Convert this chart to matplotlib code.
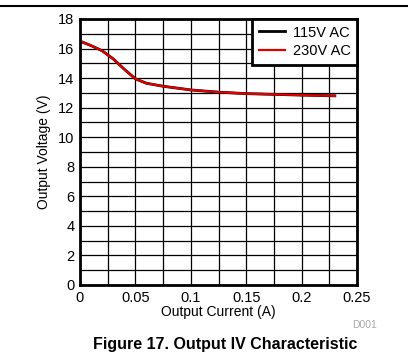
import numpy as np
import matplotlib.pyplot as plt
from matplotlib.lines import Line2D

# data
current = [0.0, 0.01, 0.02, 0.03, 0.04, 0.05, 0.06, 0.075, 0.1, 0.125, 0.15, 0.175, 0.2, 0.23]
v_115 = [16.5, 16.2, 15.85, 15.3, 14.6, 13.95, 13.65, 13.45, 13.2, 13.05, 12.95, 12.9, 12.85, 12.8]
v_230 = [16.5, 16.2, 15.85, 15.3, 14.6, 13.95, 13.65, 13.45, 13.2, 13.05, 12.95, 12.9, 12.85, 12.8]

plt.rcParams['font.family'] = ['Liberation Sans', 'DejaVu Sans']

fig = plt.figure(figsize=(4.08, 3.57), dpi=100)
ax = fig.add_axes([80/408, 1-285/357, 277/408, 266/357])

ax.plot(current, v_115, color='black', lw=2.0, label='115V AC')
ax.plot(current, v_230, color='#e00000', lw=1.6, label='230V AC')

ax.set_xlim(0, 0.25)
ax.set_ylim(0, 18)
ax.set_xticks(np.arange(0, 0.251, 0.05))
ax.set_xticklabels(['0', '0.05', '0.1', '0.15', '0.2', '0.25'])
ax.set_yticks(np.arange(0, 19, 2))
ax.set_xticks(np.arange(0, 0.251, 0.025), minor=True)
ax.set_yticks(np.arange(0, 19, 1), minor=True)
ax.grid(True, which='both', color='black', lw=0.9)
ax.tick_params(which='both', length=0, labelsize=10.5, pad=4)
for s in ax.spines.values():
    s.set_linewidth(2)

ax.set_xlabel('Output Current (A)', fontsize=10, labelpad=0)
ax.set_ylabel('Output Voltage (V)', fontsize=10, labelpad=5)

leg = ax.legend(loc='upper right', fontsize=10.5, fancybox=False, framealpha=1,
                edgecolor='black', borderaxespad=0, handlelength=1.8, borderpad=0.45,
                labelspacing=0.3, handletextpad=0.5)
leg.get_frame().set_linewidth(2)

fig.text(365/408, 1-325/357, 'D001', fontsize=7.5, color='#aaaaaa', ha='center', va='center')
fig.text(225/408, 1-345/357, 'Figure 17. Output IV Characteristic', fontsize=11.5,
         fontweight='bold', ha='center', va='center')
fig.add_artist(Line2D([0, 1], [1-6/357, 1-6/357], color='black', lw=1.5))

fig.savefig('out.png', dpi=100)
